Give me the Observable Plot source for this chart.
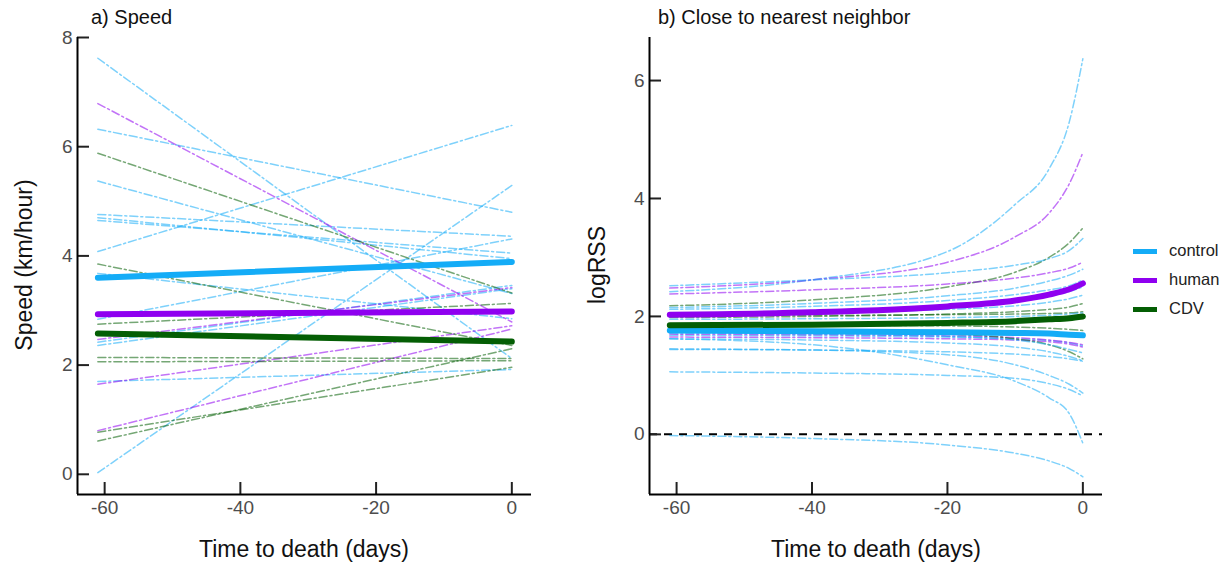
<!DOCTYPE html>
<html><head><meta charset="utf-8">
<script src="https://cdn.jsdelivr.net/npm/d3@7"></script>
<script src="https://cdn.jsdelivr.net/npm/@observablehq/plot@0.6"></script>
<style>
body{margin:0;background:#fff;font-family:"Liberation Sans",Arial,sans-serif;}
#wrap{position:relative;width:1225px;height:565px;overflow:hidden;background:#fff}
.abs{position:absolute;white-space:nowrap;line-height:1}
.panel{position:absolute;top:0}
</style></head><body><div id="wrap"></div>
<script>
// ---------- data ----------
const groups = ["control", "human", "CDV"];
const groupColors = ["#14ACF7", "#8F00F0", "#045E04"];
const xTicks = [-60, -40, -20, 0];
const speedTicks = [0, 2, 4, 6, 8];
const rssTicks = [0, 2, 4, 6];

// a) Speed: individual straight lines from day -61 to day 0
const speedDays = [-61, 0];
const speedGroup = [
  "control","control","control","control","control","control","control",
  "control","control","control","control","control","control",
  "human","human","human","human",
  "CDV","CDV","CDV","CDV","CDV","CDV","CDV"
];
const speedStart = [7.62, 6.32, 4.08, 0.03, 5.37, 4.76, 4.70, 4.65, 3.68, 2.84, 2.42, 2.36, 1.70,
                    6.79, 2.47, 1.65, 0.80,
                    5.88, 3.85, 2.75, 2.14, 2.06, 0.77, 0.61];
const speedEnd   = [2.12, 4.80, 6.39, 5.29, 3.31, 4.36, 3.95, 4.05, 2.85, 4.31, 3.46, 3.40, 1.92,
                    2.79, 3.42, 2.72, 2.66,
                    3.32, 2.36, 3.13, 2.12, 2.08, 1.96, 2.30];
const speedMeanStart = [3.60, 2.93, 2.58];
const speedMeanEnd   = [3.89, 2.98, 2.43];

// b) Close to nearest neighbor (logRSS) curves, sampled at these days
const rssDays = [-61, -40, -20, -10, -5, -2, 0];
const rssGroup = [
  "control","human","CDV","control","human","control","control","control",
  "CDV","control","CDV","control","CDV","control","human","human",
  "CDV","control","control","control","control","control","control","control"
];
const rssValues = [
  [2.42, 2.62, 3.10, 3.90, 4.50, 5.30, 6.37],
  [2.48, 2.62, 2.92, 3.35, 3.75, 4.25, 4.78],
  [2.18, 2.28, 2.50, 2.75, 3.00, 3.25, 3.50],
  [2.52, 2.62, 2.74, 2.87, 2.98, 3.12, 3.32],
  [2.38, 2.45, 2.55, 2.65, 2.74, 2.82, 2.92],
  [2.15, 2.22, 2.35, 2.48, 2.60, 2.70, 2.80],
  [2.12, 2.17, 2.27, 2.37, 2.45, 2.52, 2.62],
  [2.05, 2.10, 2.18, 2.27, 2.35, 2.42, 2.50],
  [1.98, 2.00, 2.04, 2.08, 2.12, 2.16, 2.22],
  [2.00, 2.05, 2.12, 2.18, 2.24, 2.30, 2.36],
  [2.02, 2.02, 2.03, 2.04, 2.05, 2.06, 2.08],
  [1.95, 1.96, 1.98, 2.00, 2.02, 2.04, 2.06],
  [1.85, 1.85, 1.84, 1.82, 1.80, 1.78, 1.76],
  [1.68, 1.67, 1.65, 1.62, 1.59, 1.55, 1.50],
  [1.65, 1.64, 1.62, 1.60, 1.57, 1.53, 1.48],
  [1.70, 1.69, 1.67, 1.64, 1.60, 1.56, 1.52],
  [1.75, 1.74, 1.70, 1.62, 1.52, 1.40, 1.28],
  [1.72, 1.70, 1.66, 1.60, 1.52, 1.44, 1.38],
  [1.62, 1.60, 1.55, 1.48, 1.40, 1.32, 1.25],
  [1.45, 1.43, 1.35, 1.18, 1.00, 0.85, 0.70],
  [1.62, 1.52, 1.18, 0.90, 0.62, 0.35, -0.15],
  [1.06, 1.04, 1.00, 0.95, 0.86, 0.76, 0.65],
  [-0.02, -0.07, -0.18, -0.32, -0.45, -0.58, -0.72],
  [1.44, 1.43, 1.40, 1.36, 1.32, 1.28, 1.24]
];
const rssMeanControl = [1.76, 1.75, 1.73, 1.72, 1.71, 1.69, 1.68];
const rssMeanHuman   = [2.03, 2.07, 2.17, 2.27, 2.37, 2.46, 2.56];
const rssMeanCDV     = [1.85, 1.86, 1.89, 1.92, 1.95, 1.97, 2.00];

// ---------- build tables ----------
const speedThin = [];
speedGroup.forEach((g, i) => {
  speedThin.push({id: i, group: g, day: speedDays[0], value: speedStart[i]});
  speedThin.push({id: i, group: g, day: speedDays[1], value: speedEnd[i]});
});
const speedMean = [];
groups.forEach((g, i) => {
  speedMean.push({group: g, day: speedDays[0], value: speedMeanStart[i]});
  speedMean.push({group: g, day: speedDays[1], value: speedMeanEnd[i]});
});
const rssThin = [];
rssGroup.forEach((g, i) => rssDays.forEach((d, j) => rssThin.push({id: i, group: g, day: d, value: rssValues[i][j]})));
const rssMean = [];
[rssMeanControl, rssMeanHuman, rssMeanCDV].forEach((arr, i) =>
  rssDays.forEach((d, j) => rssMean.push({group: groups[i], day: d, value: arr[j]})));

// ---------- panels ----------
const xDomain = [-64, 2.9];
const H = 565, MT = 37, MB = 71, TICK = 12;
const fmt = d => String(d);
const tickColor = "#222";
function makePanel(o) {
  const plotW = o.width - o.ml - o.mr, plotH = H - MT - MB;
  const tx = TICK * (xDomain[1] - xDomain[0]) / plotW;       // inward tick length in x units
  const ty = TICK * (o.yDomain[1] - o.yDomain[0]) / plotH;   // inward tick length in y units
  return Plot.plot({
    width: o.width, height: H,
    marginLeft: o.ml, marginRight: o.mr, marginTop: MT, marginBottom: MB,
    x: {domain: xDomain, label: null},
    y: {domain: o.yDomain, label: null},
    color: {domain: groups, range: groupColors},
    style: {fontFamily: "'Liberation Sans', Arial, sans-serif", fontSize: "19px", color: "#4d4d4d", background: "transparent", overflow: "visible"},
    marks: [
      ...o.extra,
      Plot.line(o.thin, {x: "day", y: "value", z: "id", stroke: "group", strokeWidth: 1.5, strokeOpacity: 0.55, strokeDasharray: "8,3,2,3", curve: o.curve}),
      Plot.line(o.mean, {x: "day", y: "value", z: "group", stroke: "group", strokeWidth: 6, curve: o.curve}),
      Plot.ruleX(xTicks, {x: d => d, y1: o.yDomain[0], y2: o.yDomain[0] + ty, stroke: tickColor, strokeWidth: 2}),
      Plot.ruleY(o.yTicks, {y: d => d, x1: xDomain[0], x2: xDomain[0] + tx, stroke: tickColor, strokeWidth: 2}),
      Plot.ruleX([xDomain[0]], {stroke: "black", strokeWidth: 2}),
      Plot.ruleY([o.yDomain[0]], {stroke: "black", strokeWidth: 2}),
      Plot.axisX(xTicks, {tickSize: 0, tickPadding: 6, label: null, fontSize: 19, tickFormat: fmt}),
      Plot.axisY(o.yTicks, {tickSize: 0, tickPadding: 5, label: null, fontSize: 19, tickFormat: fmt})
    ]
  });
}

const wrap = document.getElementById("wrap");
const left = makePanel({width: 560, ml: 77, mr: 29, yDomain: [-0.37, 8], yTicks: speedTicks,
  thin: speedThin, mean: speedMean, curve: "linear", extra: []});
left.classList.add("panel"); left.style.left = "0px";
wrap.appendChild(left);

const right = makePanel({width: 550, ml: 79, mr: 18, yDomain: [-1.02, 6.73], yTicks: rssTicks,
  thin: rssThin, mean: rssMean, curve: "monotone-x",
  extra: [Plot.ruleY([0], {stroke: "black", strokeWidth: 2, strokeDasharray: "8,7"})]});
right.classList.add("panel"); right.style.left = "570px";
wrap.appendChild(right);

// ---------- texts ----------
function addText(txt, css) {
  const d = document.createElement("div");
  d.className = "abs"; d.textContent = txt;
  Object.assign(d.style, css);
  wrap.appendChild(d);
  return d;
}
addText("a) Speed", {left: "91px", top: "7px", fontSize: "20px", color: "#111"});
addText("b) Close to nearest neighbor", {left: "658px", top: "7px", fontSize: "20px", color: "#111"});
addText("Time to death (days)", {left: "304px", top: "538px", fontSize: "23px", color: "#111", transform: "translateX(-50%)"});
addText("Time to death (days)", {left: "876px", top: "538px", fontSize: "23px", color: "#111", transform: "translateX(-50%)"});
addText("Speed (km/hour)", {left: "24px", top: "265px", fontSize: "23px", color: "#111", transform: "translate(-50%,-50%) rotate(-90deg)"});
addText("logRSS", {left: "597px", top: "265px", fontSize: "23px", color: "#111", transform: "translate(-50%,-50%) rotate(-90deg)"});

// legend
const legendY = [251, 280, 309];
groups.forEach((g, i) => {
  const sw = document.createElement("div");
  sw.className = "abs";
  Object.assign(sw.style, {left: "1133px", top: (legendY[i] - 2.5) + "px", width: "24px", height: "5px", background: groupColors[i]});
  wrap.appendChild(sw);
  addText(g, {left: "1169px", top: (legendY[i] - 9) + "px", fontSize: "16.5px", color: "#222"});
});
</script></body></html>
